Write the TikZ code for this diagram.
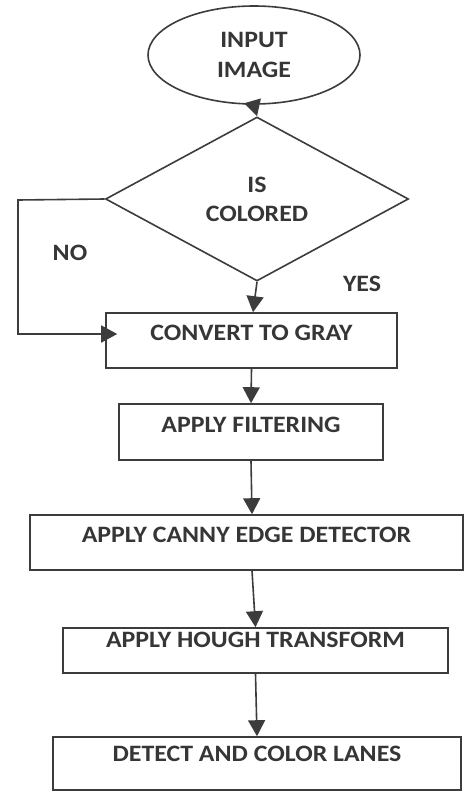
\documentclass[tikz,border=0pt]{standalone}
\usepackage{fontspec}
\setmainfont{Carlito}[FakeStretch=1.1]
\usetikzlibrary{shapes.geometric,arrows.meta}
\definecolor{ink}{HTML}{363636}
\definecolor{linec}{HTML}{3C3C3C}
\begin{document}
\begin{tikzpicture}[x=1pt,y=-1pt,
  every node/.style={text=ink,font=\fontsize{23.5}{30}\selectfont\bfseries},
  shp/.style={draw=linec,line width=1.6pt,inner sep=0pt},
  stepbox/.style={shp,rectangle,text height=16pt,text depth=16pt},
  conn/.style={draw=linec,line width=1.6pt,-{Triangle[length=16pt,width=17pt]}}]
\path[use as bounding box] (0,0) rectangle (468,792);
\fill[white] (0,0) rectangle (468,792);

\node[shp,ellipse,minimum width=212pt,minimum height=98pt,align=center] (inp) at (254,55) {INPUT\\IMAGE};
\node[shp,diamond,minimum width=303pt,minimum height=164pt,align=center,font=\fontsize{23.5}{29}\selectfont\bfseries] (dia) at (257,199) {IS\\COLORED};
\node[stepbox,minimum width=291pt,minimum height=55pt] (conv) at (251.5,340.5) {CONVERT TO GRAY};
\node[stepbox,minimum width=264pt,minimum height=56pt] (filt) at (251,432) {APPLY FILTERING};
\node[stepbox,minimum width=433pt,minimum height=55pt] (canny) at (246.5,542.5) {APPLY CANNY EDGE DETECTOR};
\node[stepbox,minimum width=385pt,minimum height=45pt,text height=13pt,text depth=20pt] (hough) at (255.5,650.5) {APPLY HOUGH TRANSFORM};
\node[stepbox,minimum width=408pt,minimum height=53pt,text height=14pt,text depth=18pt] (det) at (257,763.5) {DETECT AND COLOR LANES};

\node (no) at (70,253) {NO};
\node (yes) at (362,284) {YES};

\coordinate (c1) at (18,200);
\coordinate (c2) at (18,334);

\draw[conn] ([yshift=-1pt]inp.south) -- (dia.north);
\draw[conn] (dia.south) -- ([xshift=1.5pt]conv.north);
\draw[conn] (conv.south) -- (filt.north);
\draw[conn] (filt.south) -- ([xshift=5.5pt]canny.north);
\draw[conn] ([xshift=5.5pt]canny.south) -- (hough.north);
\draw[conn] (hough.south) -- (det.north);
\draw[conn] (dia.west) -- (c1) -- (c2) -- ([xshift=12pt]conv.west |- c2);
\end{tikzpicture}
\end{document}
